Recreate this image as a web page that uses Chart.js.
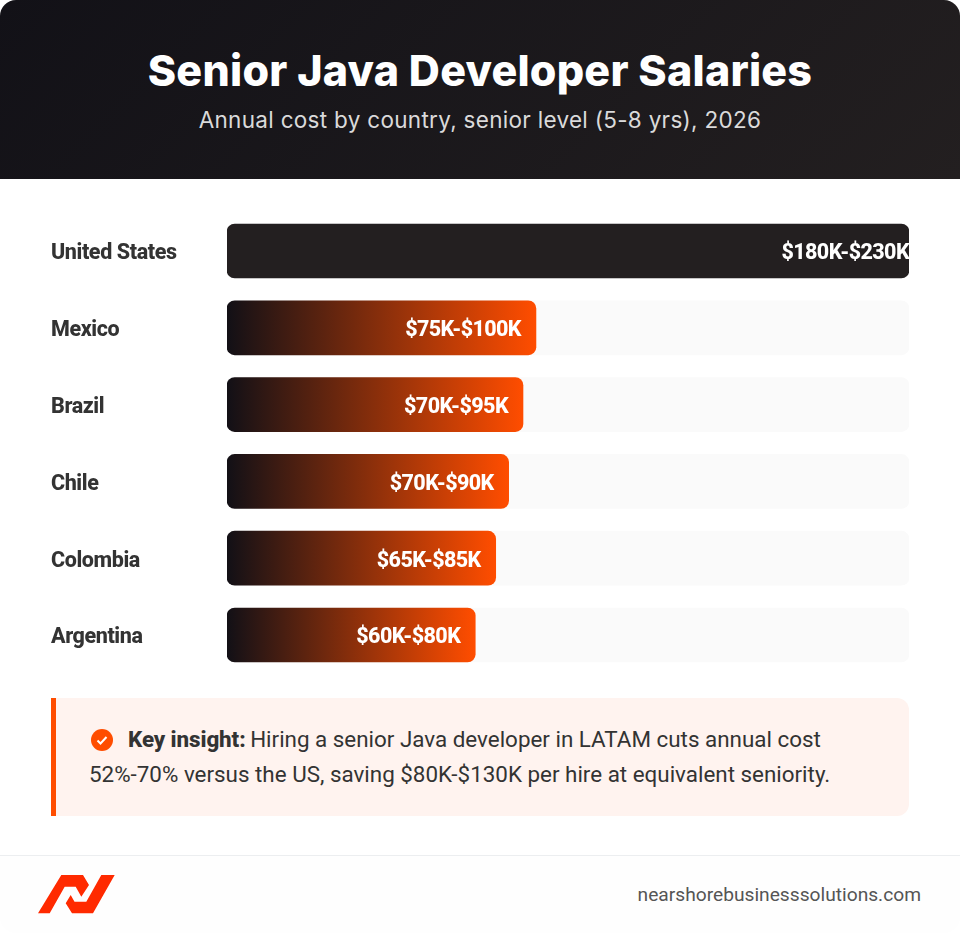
<!DOCTYPE html>
<html><head><meta charset="utf-8">
<script src="https://cdn.jsdelivr.net/npm/chart.js@4"></script>
<style>
html,body{margin:0;padding:0;background:#fff}
#page{position:relative;width:960px;height:933px;overflow:hidden;background:#fff;border-radius:16px;font-family:Roboto,sans-serif}
#head{position:absolute;left:0;top:0;width:960px;height:179px;background:linear-gradient(135deg,#121117 0%,#231f20 100%);text-align:center;color:#fff}
#head h1{margin:0;position:absolute;left:0;right:0;top:42px;font:800 43px/56px Inter,sans-serif;letter-spacing:0.23px}
#head p{margin:0;position:absolute;left:0;right:0;top:105px;font:400 22.5px/30px Inter,sans-serif;letter-spacing:0.3px;color:rgba(255,255,255,.85)}
#wrap{position:absolute;left:0;top:180px;width:960px;height:510px}
#call{position:absolute;left:51px;top:698px;width:853px;height:118px;background:#fff3ef;border-left:5px solid #ff4d00;border-radius:0 12px 12px 0}
#call div{position:absolute;left:33px;top:24px;width:800px;font:400 22.4px/35.4px Roboto,sans-serif;color:#333}
#call b{font-weight:800;letter-spacing:-0.1px;margin-right:-1px}
#call svg{display:inline-block;vertical-align:-4px;margin-right:15px;margin-left:2px}
#foot{position:absolute;left:0;top:855px;width:960px;height:78px;border-top:1px solid #eceef0;background:#fefefe;box-sizing:border-box}
#foot span{position:absolute;right:39px;top:27px;font:400 19.2px/24px Roboto,sans-serif;color:#555}
#foot svg{position:absolute;left:38px;top:19px}
</style></head><body>
<div id="page">
<div id="head"><h1>Senior Java Developer Salaries</h1><p>Annual cost by country, senior level (5-8 yrs), 2026</p></div>
<div id="wrap"><canvas id="c"></canvas></div>
<div id="call"><div><svg width="22" height="22" viewBox="0 0 22 22"><circle cx="11" cy="11" r="11" fill="#ff4d00"/><path d="M6.5 11.5l3 3 6-6.5" fill="none" stroke="#fff" stroke-width="2"/></svg><b>Key insight:</b> Hiring a senior Java developer in LATAM cuts annual cost<br>52%-70% versus the US, saving $80K-$130K per hire at equivalent seniority.</div></div>
<div id="foot"><svg width="78" height="39" viewBox="0 0 78 39"><path fill="#ff2a00" d="M0 38.3L23.3 0H45L51 10L43.3 21.7L37.7 11.7H26.7L11.7 38.3ZM32.7 20L27.7 28.3L34 38.3H55L76.7 0H63.3L48.3 26.7H36.5Z"/></svg><span>nearshorebusinesssolutions.com</span></div>
</div>
<script>
const countries=['United States','Mexico','Brazil','Chile','Colombia','Argentina'];
const salaryRanges=['$180K-$230K','$75K-$100K','$70K-$95K','$70K-$90K','$65K-$85K','$60K-$80K'];
const barShare=[100,45.3,43.4,41.3,39.4,36.4];
const trackShare=[100,100,100,100,100,100];
const topColor='#231f20',gradStart='#121016',gradEnd='#ff4d00';
function fill(ctx){
  if(ctx.dataIndex===0) return topColor;
  const a=ctx.chart.chartArea;
  if(!a) return gradEnd;
  const x0=ctx.chart.scales.x.getPixelForValue(0), x1=ctx.chart.scales.x.getPixelForValue(ctx.raw);
  const g=ctx.chart.ctx.createLinearGradient(x0,0,x1,0);
  g.addColorStop(0,gradStart);g.addColorStop(1,gradEnd);return g;
}
const tightText={id:'tightText',beforeDraw(chart){chart.ctx.letterSpacing='-0.4px';}};
const valueLabels={id:'valueLabels',afterDatasetsDraw(chart){
  const {ctx,scales:{x,y}}=chart;
  ctx.save();ctx.font='800 21.5px Roboto';ctx.letterSpacing='-0.6px';ctx.fillStyle='#fff';ctx.textAlign='right';ctx.textBaseline='middle';
  barShare.forEach((v,i)=>{ctx.fillText(salaryRanges[i],x.getPixelForValue(v)-(v>=100?0:15),y.getPixelForValue(i)+3);});
  ctx.restore();
}};
new Chart(document.getElementById('c'),{
  type:'bar',
  data:{labels:countries,datasets:[
    {label:'Share',data:barShare,backgroundColor:fill,order:1,borderRadius:8,borderSkipped:false,grouped:false,barThickness:54},
    {label:'Track',data:trackShare,backgroundColor:'#fafafa',order:2,borderRadius:8,borderSkipped:false,grouped:false,barThickness:54}
  ]},
  options:{indexAxis:'y',responsive:true,maintainAspectRatio:false,animation:false,
    layout:{padding:{left:51,right:51,top:32.6,bottom:16.6}},
    plugins:{legend:{display:false},tooltip:{enabled:false}},
    scales:{
      x:{display:false,min:0,max:100},
      y:{grid:{display:false},border:{display:false},
        afterFit(s){s.width=176;},
        ticks:{crossAlign:'far',padding:0,labelOffset:3,color:'#333',font:{family:'Roboto',weight:'800',size:21.5}}}
    }},
  plugins:[tightText,valueLabels]
});
</script>
</body></html>
